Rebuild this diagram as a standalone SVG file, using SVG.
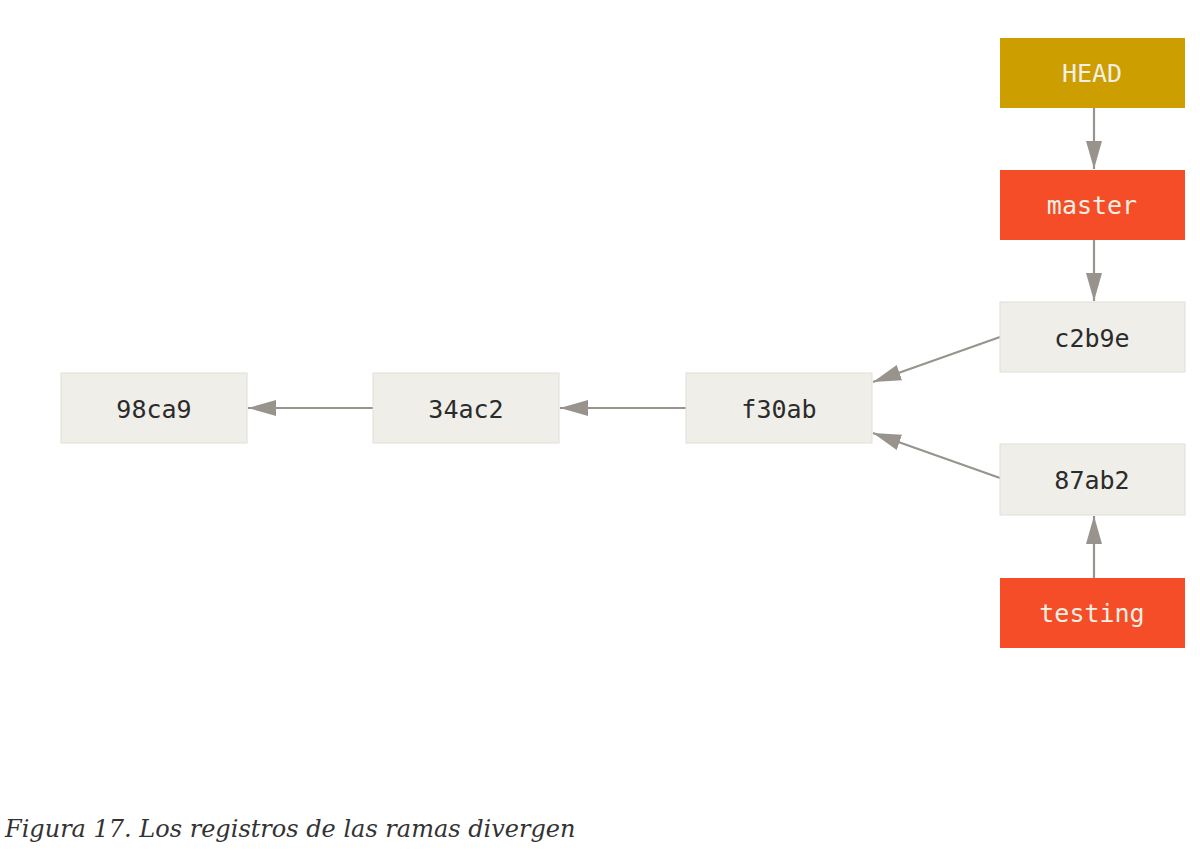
<svg xmlns="http://www.w3.org/2000/svg" width="1200" height="855" viewBox="0 0 1200 855">
<style>
.commit rect{fill:#efeee8;stroke:#dfded8;stroke-width:1}
.commit text{fill:#2b2b2b}
.head rect{fill:#cc9e00}
.branch rect{fill:#f44d27}
.head text,.branch text{fill:#f3efe3}
text{font-family:"DejaVu Sans Mono","Liberation Mono",monospace;font-size:25px;text-anchor:middle;dominant-baseline:central}
.edge{stroke:#98948d;stroke-width:2.2;fill:none;marker-end:url(#arr)}
.caption{font-family:"DejaVu Serif","Liberation Serif",serif;font-style:italic;font-size:24px;text-anchor:start;dominant-baseline:auto;fill:#333}
</style>
<defs>
<marker id="arr" markerUnits="userSpaceOnUse" markerWidth="28" markerHeight="18" refX="28" refY="9" orient="auto">
<path d="M0,1 L28,9 L0,17 Z" fill="#98948d"/>
</marker>
</defs>
<rect width="1200" height="855" fill="#ffffff"/>
<g id="connectors">
<line class="edge" x1="1094" y1="108" x2="1094" y2="169"/>
<line class="edge" x1="1094" y1="240" x2="1094" y2="301"/>
<line class="edge" x1="1000" y1="337" x2="873" y2="382"/>
<line class="edge" x1="1000" y1="478" x2="873" y2="433"/>
<line class="edge" x1="686" y1="408" x2="560" y2="408"/>
<line class="edge" x1="373" y1="408" x2="248" y2="408"/>
<line class="edge" x1="1094" y1="578" x2="1094" y2="516"/>
</g>
<g id="HEAD" class="head"><rect x="1000" y="38" width="185" height="70"/><text x="1092" y="73">HEAD</text></g>
<g id="master" class="branch"><rect x="1000" y="170" width="185" height="70"/><text x="1092" y="205">master</text></g>
<g id="c2b9e" class="commit"><rect x="1000" y="302" width="185" height="70"/><text x="1092" y="338">c2b9e</text></g>
<g id="87ab2" class="commit"><rect x="1000" y="444" width="185" height="71"/><text x="1092" y="480">87ab2</text></g>
<g id="testing" class="branch"><rect x="1000" y="578" width="185" height="70"/><text x="1092" y="613">testing</text></g>
<g id="f30ab" class="commit"><rect x="686" y="373" width="186" height="70"/><text x="779" y="409">f30ab</text></g>
<g id="34ac2" class="commit"><rect x="373" y="373" width="186" height="70"/><text x="466" y="409">34ac2</text></g>
<g id="98ca9" class="commit"><rect x="61" y="373" width="186" height="70"/><text x="154" y="409">98ca9</text></g>
<text class="caption" x="5" y="837">Figura 17. Los registros de las ramas divergen</text>
</svg>
